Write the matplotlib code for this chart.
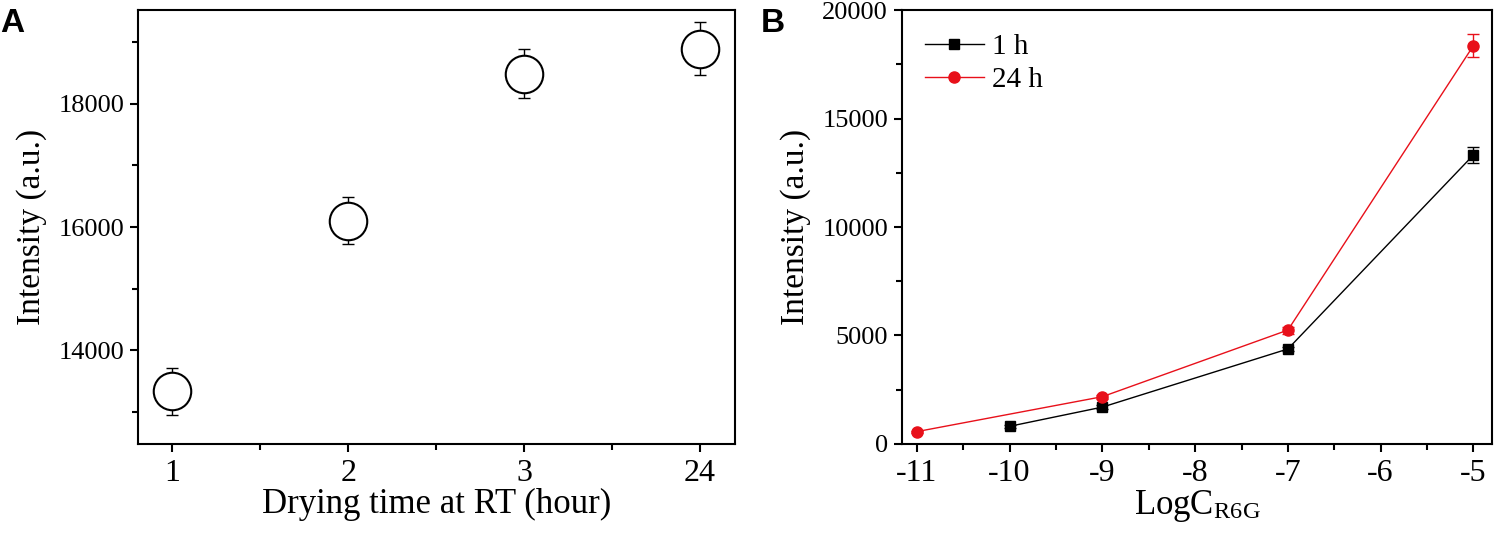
import matplotlib
matplotlib.use("Agg")
import matplotlib.pyplot as plt
from matplotlib.ticker import MultipleLocator
from matplotlib.lines import Line2D

plt.rcParams['font.family'] = ['Liberation Serif', 'DejaVu Serif']
plt.rcParams['mathtext.fontset'] = 'stix'
plt.rcParams['axes.unicode_minus'] = False

# panel A data
drying_labels = ['1', '2', '3', '24']
drying_pos = [1, 2, 3, 4]
intensity_a = [13330, 16100, 18490, 18900]
err_a = [380, 380, 400, 430]

# panel B data
logc_1h = [-10, -9, -7, -5]
int_1h = [815, 1700, 4380, 13320]
err_1h = [60, 80, 90, 370]
logc_24h = [-11, -9, -7, -5]
int_24h = [570, 2180, 5250, 18360]
err_24h = [50, 90, 160, 530]

red = '#e8101a'

fig = plt.figure(figsize=(14.98, 5.35), dpi=100)
ax1 = fig.add_axes([0.0921, 0.1701, 0.3986, 0.8112])
ax2 = fig.add_axes([0.6021, 0.1701, 0.3939, 0.8112])

for ax in (ax1, ax2):
    for s in ax.spines.values():
        s.set_linewidth(1.5)
    ax.tick_params(which='both', direction='out', width=1.5, top=False, right=False)
    ax.tick_params(which='major', length=6)
    ax.tick_params(which='minor', length=4)
    ax.tick_params(axis='y', labelsize=19, pad=4)
    ax.tick_params(axis='x', labelsize=23, pad=5)

# A
ax1.errorbar(drying_pos, intensity_a, yerr=err_a, fmt='none', ecolor='black',
             elinewidth=1, capsize=4, capthick=1, zorder=1)
ax1.plot(drying_pos, intensity_a, 'o', ms=27, mfc='white', mec='black', mew=1.5, zorder=2)
ax1.set_xlim(0.805, 4.2)
ax1.set_ylim(12472, 19528)
ax1.set_xticks(drying_pos)
ax1.set_xticklabels(drying_labels)
ax1.xaxis.set_minor_locator(MultipleLocator(0.5))
ax1.yaxis.set_major_locator(MultipleLocator(2000))
ax1.yaxis.set_minor_locator(MultipleLocator(1000))
ax1.set_xlabel('Drying time at RT (hour)', fontsize=25, labelpad=0)
ax1.set_ylabel('Intensity (a.u.)', fontsize=24, labelpad=8)

# B
ax2.errorbar(logc_1h, int_1h, yerr=err_1h, color='black', lw=1, marker='s', ms=7,
             capsize=4, capthick=1, elinewidth=1)
ax2.errorbar(logc_24h, int_24h, yerr=err_24h, color=red, lw=1, marker='o', ms=8,
             capsize=4, capthick=1, elinewidth=1)
ax2.set_xlim(-11.16, -4.8)
ax2.set_ylim(0, 20000)
ax2.xaxis.set_major_locator(MultipleLocator(1))
ax2.xaxis.set_minor_locator(MultipleLocator(0.5))
ax2.yaxis.set_major_locator(MultipleLocator(5000))
ax2.yaxis.set_minor_locator(MultipleLocator(2500))
ax2.set_xlabel('LogC$_{\\mathregular{R6G}}$', fontsize=25, labelpad=0)
ax2.set_ylabel('Intensity (a.u.)', fontsize=24, labelpad=8)
handles = [Line2D([], [], color='black', lw=1, marker='s', ms=7),
           Line2D([], [], color=red, lw=1, marker='o', ms=8)]
ax2.legend(handles, ['1 h', '24 h'], loc='upper left', frameon=False, fontsize=21,
           handlelength=2.0, handletextpad=0.3, borderaxespad=0.4, labelspacing=0.25)

fig.text(0.0, 0.985, 'A', fontsize=24, fontweight='bold', family='Liberation Sans', va='top')
fig.text(0.508, 0.985, 'B', fontsize=24, fontweight='bold', family='Liberation Sans', va='top')

fig.savefig('out.png', dpi=100)
